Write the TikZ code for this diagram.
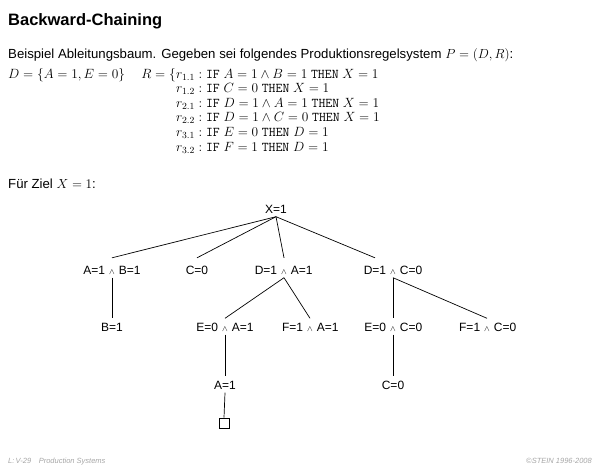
\RequirePackage{fix-cm}
\documentclass[tikz,border=0pt]{standalone}
\usepackage[no-math]{fontspec}
\setmainfont{Liberation Sans}
\newcommand\andsym{{\fontsize{8}{8}\selectfont$\wedge$}}
\newcommand\conj[2]{\llap{#1\hspace{4pt}}\andsym\rlap{\hspace{4pt}#2}}
\begin{document}
\begin{tikzpicture}[x=1pt,y=-1pt,
  txt/.style={anchor=base west,inner sep=0pt,font=\fontsize{13.2}{15}\selectfont},
  rule/.style={txt,font=\fontsize{13.4}{15}\selectfont},
  tn/.style={anchor=base,inner xsep=0pt,inner ysep=3.5pt,text height=9pt,text depth=0pt,font=\fontsize{12}{14}\selectfont},
  edge/.style={draw=black,line width=0.7pt},
  foot/.style={font=\fontsize{7.5}{8}\selectfont\itshape,text=black!35,inner sep=0pt}]
\useasboundingbox (0,0) rectangle (600,467);
% text block
\node[txt] (title) at (8,25) {\fontsize{16.5}{20}\selectfont\bfseries Backward-Chaining};
\node[txt] (intro) at (8,58) {Beispiel Ableitungsbaum. Gegeben sei folgendes Produktionsregelsystem $P=(D,R)$:};
\node[rule] (D) at (8,78) {$D=\{A=1,E=0\}$};
\node[rule,anchor=base east] (R) at (176,78) {$R=\{$};
\node[rule] (r11) at (176,78) {$r_{1.1}:$ \texttt{IF} $A=1\wedge B=1$ \texttt{THEN} $X=1$};
\node[rule] (r12) at (176,92.6) {$r_{1.2}:$ \texttt{IF} $C=0$ \texttt{THEN} $X=1$};
\node[rule] (r21) at (176,107.2) {$r_{2.1}:$ \texttt{IF} $D=1\wedge A=1$ \texttt{THEN} $X=1$};
\node[rule] (r22) at (176,121.8) {$r_{2.2}:$ \texttt{IF} $D=1\wedge C=0$ \texttt{THEN} $X=1$};
\node[rule] (r31) at (176,136.4) {$r_{3.1}:$ \texttt{IF} $E=0$ \texttt{THEN} $D=1$};
\node[rule] (r32) at (176,151) {$r_{3.2}:$ \texttt{IF} $F=1$ \texttt{THEN} $D=1$};
\node[txt] (ziel) at (8,188) {Für Ziel $X=1$:};
% tree
\node[tn] (x) at (276,213) {X=1};
\node[tn] (ab) at (112,274) {\conj{A=1}{B=1}};
\node[tn] (c) at (197,274) {C=0};
\node[tn] (da) at (284,274) {\conj{D=1}{A=1}};
\node[tn] (dc) at (393,274) {\conj{D=1}{C=0}};
\node[tn] (b) at (112,331) {B=1};
\node[tn] (ea) at (225,331) {\conj{E=0}{A=1}};
\node[tn] (fa) at (310,331) {\conj{F=1}{A=1}};
\node[tn] (ec) at (393,331) {\conj{E=0}{C=0}};
\node[tn] (fc) at (487,331) {\conj{F=1}{C=0}};
\node[tn] (a) at (225,389) {A=1};
\node[tn] (c2) at (393,389) {C=0};
\node[draw,line width=0.7pt,minimum size=10pt,inner sep=0pt] (sq) at (224,423) {};
\draw[edge] (x.south) -- ([yshift=3.5pt]ab.north);
\draw[edge] (x.south) -- ([yshift=3.5pt]c.north);
\draw[edge] (x.south) -- ([yshift=3.5pt]da.north);
\draw[edge] (x.south) -- ([xshift=-18pt,yshift=3.5pt]dc.north);
\draw[edge] (ab.south) -- (b.north);
\draw[edge] (da.south) -- (ea.north);
\draw[edge] (da.south) -- (fa.north);
\draw[edge] (dc.south) -- (ec.north);
\draw[edge] (dc.south) -- (fc.north);
\draw[edge] (ea.south) -- (a.north);
\draw[edge] (ec.south) -- (c2.north);
\draw[edge] (a.south) -- (sq.north);
% footer
\node[foot,anchor=base west] (fl) at (8,463) {L:\,V-29\quad Production Systems};
\node[foot,anchor=base east] (fr) at (592,463) {©STEIN 1996-2008};
\end{tikzpicture}
\end{document}
